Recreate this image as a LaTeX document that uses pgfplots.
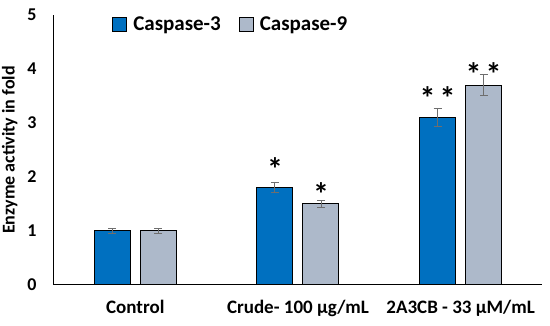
\documentclass[border=0pt]{standalone}
\usepackage{pgfplots}
\pgfplotsset{compat=1.18}
\usepackage{fontspec}
\setmainfont{Carlito}
\definecolor{cblue}{HTML}{0070C0}
\definecolor{cgray}{HTML}{ADB9CA}
\definecolor{egray}{HTML}{6E6E6E}
\begin{document}
\begin{tikzpicture}
\useasboundingbox (-54pt,-41pt) rectangle (496pt,285pt);
\begin{axis}[
  at={(0,0)}, anchor=south west,
  scale only axis, width=488pt, height=270pt,
  xmin=-0.5, xmax=2.5, ymin=0, ymax=5,
  axis x line*=bottom, axis y line*=left,
  axis line style={line width=1pt, -},
  xtick={0,1,2},
  xticklabels={Control, Crude- 100 µg/mL, 2A3CB - 33 µM/mL},
  ytick={0,1,2,3,4,5},
  major tick length=0pt,
  /pgf/number format/assume math mode=true,
  tick label style={font=\fontsize{18}{20}\selectfont\bfseries},
  xticklabel style={yshift=-12pt, font=\fontsize{19}{21}\selectfont\bfseries},
  yticklabel style={xshift=-14pt},
  ylabel={Enzyme activity in fold},
  ylabel style={font=\fontsize{18}{20}\selectfont\bfseries, yshift=3pt},
  legend style={draw=none, at={(0.119,1.0)}, anchor=north west, legend columns=2,
    font=\fontsize{21}{23}\selectfont\bfseries, inner sep=0pt,
    /tikz/every even column/.append style={column sep=16pt}},
  legend image code/.code={\draw[#1, line width=1pt] (0pt,-7pt) rectangle (14pt,7pt); \path (18pt,0pt);},
  clip=false,
]
\addplot[ybar, bar width=36pt, bar shift=-23pt, fill=cblue, draw=black, line width=1pt]
  coordinates {(0,1.0) (1,1.8) (2,3.1)};
\addlegendentry{Caspase-3}
\addplot[ybar, bar width=36pt, bar shift=23pt, fill=cgray, draw=black, line width=1pt]
  coordinates {(0,1.0) (1,1.5) (2,3.7)};
\addlegendentry{Caspase-9}
% error bars (Caspase-3 at x-0.1414, Caspase-9 at x+0.1414)
\addplot[draw=none, mark=none, forget plot,
  error bars/.cd, y dir=both, y explicit,
  error bar style={egray, line width=1pt}, error mark options={rotate=90, mark size=4pt, egray, line width=1pt}]
  coordinates {(-0.1414,1.0) +- (0,0.04) (0.8586,1.8) +- (0,0.09) (1.8586,3.1) +- (0,0.16)};
\addplot[draw=none, mark=none, forget plot,
  error bars/.cd, y dir=both, y explicit,
  error bar style={egray, line width=1pt}, error mark options={rotate=90, mark size=4pt, egray, line width=1pt}]
  coordinates {(0.1414,1.0) +- (0,0.04) (1.1414,1.5) +- (0,0.06) (2.1414,3.7) +- (0,0.19)};
\addplot[draw=none, mark=none, forget plot, nodes near coords, point meta=explicit symbolic,
  every node near coord/.style={anchor=center, font=\fontsize{32}{32}\selectfont\bfseries, inner sep=0pt, yshift=-6pt}]
  table[meta=label] {
x y label
0.8586 2.26 *
1.1414 1.80 *
1.8586 3.58 {*\kern4pt*}
2.1414 4.02 {*\kern4pt*}
};
\end{axis}
\end{tikzpicture}
\end{document}
